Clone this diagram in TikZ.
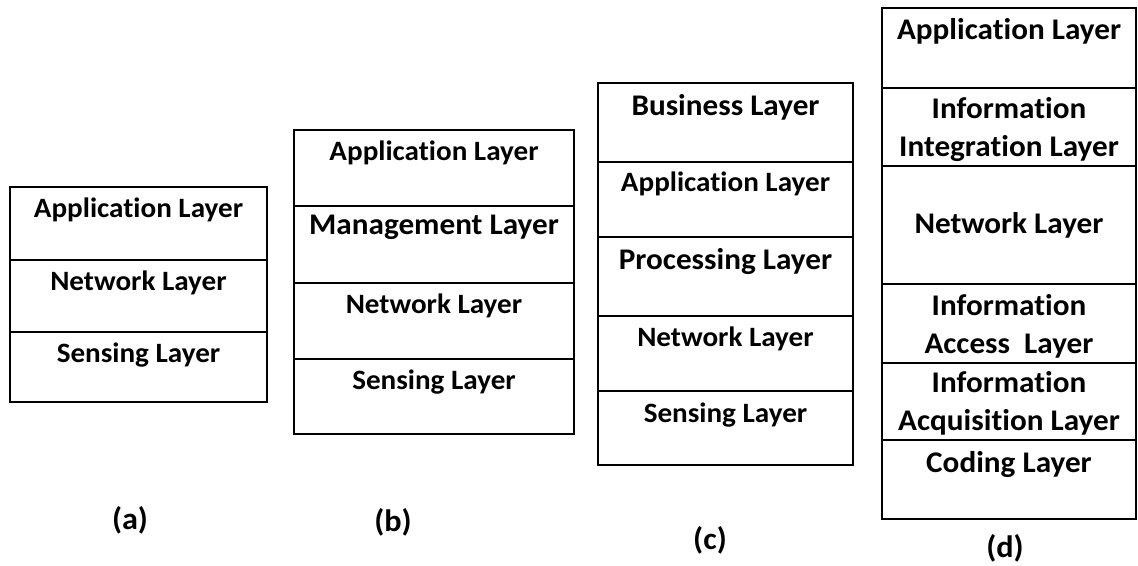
\documentclass[tikz,border=0pt]{standalone}
\usepackage{fontspec}
\setmainfont{Carlito}[Ligatures=NoCommon,FakeStretch=1.04]
\usetikzlibrary{positioning}

\tikzset{
  cell/.style args={#1x#2}{draw,line width=1.3pt,rectangle,inner sep=0pt,outer sep=0pt,
    minimum width=#1pt,minimum height=#2pt},
  lbl/.style={anchor=north,inner sep=0pt,align=center,
    font=\bfseries\fontsize{28}{38}\selectfont},
  big/.style={font=\bfseries\fontsize{30}{38}\selectfont},
  tag/.style={inner sep=0pt,font=\bfseries\fontsize{31}{36}\selectfont}
}

\begin{document}
\begin{tikzpicture}[x=1pt,y=-1pt]
\useasboundingbox (0,0) rectangle (1138,565);

% (a) three layers
\node[cell=257x73,anchor=north west] (a1) at (10,187) {};
\node[cell=257x72,below=0pt of a1] (a2) {};
\node[cell=257x70,below=0pt of a2] (a3) {};
\node[lbl] at ([yshift=-11pt]a1.north) {Application Layer};
\node[lbl] at ([yshift=-11pt]a2.north) {Network Layer};
\node[lbl] at ([yshift=-11pt]a3.north) {Sensing Layer};
\node[tag] (taga) at (130,520) {(a)};

% (b) four layers
\node[cell=280x76,anchor=north west] (b1) at (294,130) {};
\node[cell=280x77,below=0pt of b1] (b2) {};
\node[cell=280x76,below=0pt of b2] (b3) {};
\node[cell=280x75,below=0pt of b3] (b4) {};
\node[lbl] at ([yshift=-11pt]b1.north) {Application Layer};
\node[lbl,big] at ([yshift=-9pt]b2.north) {Management Layer};
\node[lbl] at ([yshift=-11pt]b3.north) {Network Layer};
\node[lbl] at ([yshift=-11pt]b4.north) {Sensing Layer};
\node[tag] (tagb) at (393,522) {(b)};

% (c) five layers
\node[cell=255x79,anchor=north west] (c1) at (598,83) {};
\node[cell=255x75,below=0pt of c1] (c2) {};
\node[cell=255x79,below=0pt of c2] (c3) {};
\node[cell=255x75,below=0pt of c3] (c4) {};
\node[cell=255x74,below=0pt of c4] (c5) {};
\node[lbl,big] at ([yshift=-11pt]c1.north) {Business Layer};
\node[lbl] at ([yshift=-10pt]c2.north) {Application Layer};
\node[lbl,big] at ([yshift=-11pt]c3.north) {Processing Layer};
\node[lbl] at ([yshift=-11pt]c4.north) {Network Layer};
\node[lbl] at ([yshift=-12pt]c5.north) {Sensing Layer};
\node[tag] (tagc) at (710,540) {(c)};

% (d) six layers
\node[cell=254x80,anchor=north west] (d1) at (882,8) {};
\node[cell=254x78,below=0pt of d1] (d2) {};
\node[cell=254x118,below=0pt of d2] (d3) {};
\node[cell=254x79,below=0pt of d3] (d4) {};
\node[cell=254x77,below=0pt of d4] (d5) {};
\node[cell=254x79,below=0pt of d5] (d6) {};
\node[lbl,big] at ([yshift=-10pt]d1.north) {Application Layer};
\node[lbl,big] at ([yshift=-9pt]d2.north) {Information\\Integration Layer};
\node[lbl,big] at ([yshift=-46pt]d3.north) {Network Layer};
\node[lbl,big] at ([yshift=-10pt]d4.north) {Information\\Access\ \ Layer};
\node[lbl,big] at ([yshift=-8pt]d5.north) {Information\\Acquisition Layer};
\node[lbl,big] at ([yshift=-11pt]d6.north) {Coding Layer};
\node[tag] (tagd) at (1005,548) {(d)};
\end{tikzpicture}
\end{document}
